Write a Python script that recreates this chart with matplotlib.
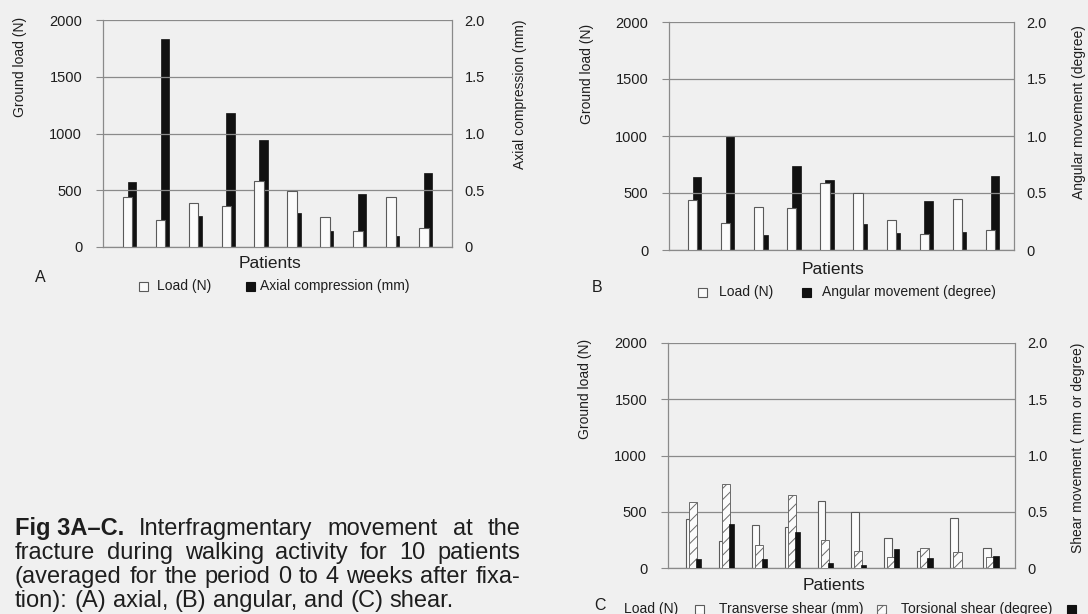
import matplotlib
matplotlib.use("Agg")
import matplotlib.pyplot as plt
from matplotlib.patches import Rectangle
import numpy as np

plt.rcParams['font.family'] = ['Liberation Sans', 'DejaVu Sans']
plt.rcParams['hatch.linewidth'] = 0.7

# ---------------- data ----------------
patients = list(range(1, 11))
load_A = [441, 241, 388, 365, 585, 492, 268, 141, 438, 171]
axial_compression = [0.57, 1.83, 0.27, 1.18, 0.94, 0.30, 0.14, 0.465, 0.094, 0.655]

load_B = [436, 233, 380, 365, 588, 497, 266, 142, 447, 175]
angular_movement = [0.637, 1.0, 0.13, 0.737, 0.614, 0.225, 0.146, 0.433, 0.158, 0.652]

load_C = [440, 240, 385, 362, 592, 497, 270, 148, 447, 175]
transverse_shear = [0.59, 0.747, 0.205, 0.648, 0.25, 0.15, 0.10, 0.18, 0.145, 0.10]
torsional_shear = [0.078, 0.39, 0.078, 0.32, 0.045, 0.024, 0.17, 0.093, 0.0, 0.108]

left_ticks = [0, 500, 1000, 1500, 2000]
right_ticks = [0, 0.5, 1.0, 1.5, 2.0]
right_ticklabels = ['0', '0.5', '1.0', '1.5', '2.0']

W, H = 1088, 614
BG = '#f0f0f0'
TXT = '#1e1e1e'
GRID = '#8a8a8a'
fig = plt.figure(figsize=(W / 100, H / 100), dpi=100, facecolor=BG)


def px_axes(l, t, r, b):
    return [l / W, 1 - b / H, (r - l) / W, (b - t) / H]


def setup(ax, xlim):
    ax.set_facecolor('none')
    ax.set_xlim(*xlim)
    ax.set_ylim(0, 2000)
    ax.set_yticks(left_ticks)
    ax.set_yticklabels([str(v) for v in left_ticks], fontsize=10.5, color=TXT)
    ax.tick_params(axis='y', length=5, width=0.8, color=GRID, pad=10)
    ax.set_xticks([])
    ax.yaxis.grid(True, color=GRID, lw=0.9)
    ax.set_axisbelow(True)
    ax.spines['top'].set_visible(False)
    for s in ['left', 'right', 'bottom']:
        ax.spines[s].set_color(GRID)
        ax.spines[s].set_linewidth(0.9)
    ax2 = ax.twinx()
    ax2.set_ylim(0, 2.0)
    ax2.set_yticks(right_ticks)
    ax2.set_yticklabels(right_ticklabels, fontsize=10.5, color=TXT)
    ax2.tick_params(axis='y', length=0, pad=9)
    for s in ['top', 'left', 'right', 'bottom']:
        ax2.spines[s].set_visible(False)
    return ax2


x = np.arange(len(patients))
WHITE = '#fbfbfb'
EDGE = '#5a5a5a'

# ---------------- panel A ----------------
axA = fig.add_axes(px_axes(103, 20, 452, 247))
axA2 = setup(axA, (-0.8, 9.8))
axA2.bar(x + 0.075, axial_compression, width=0.25, color='#111111', edgecolor='#111111', lw=0.5, zorder=2)
axA.set_zorder(axA2.get_zorder() + 1)
axA.patch.set_visible(False)
axA.bar(x - 0.055, load_A, width=0.29, color=WHITE, edgecolor=EDGE, lw=0.8, zorder=3)

# ---------------- panel B ----------------
axB = fig.add_axes(px_axes(669, 22, 1014, 250))
axB2 = setup(axB, (-0.77, 9.65))
axB2.bar(x + 0.075, angular_movement, width=0.26, color='#111111', edgecolor='#111111', lw=0.5, zorder=2)
axB.set_zorder(axB2.get_zorder() + 1)
axB.patch.set_visible(False)
axB.bar(x - 0.06, load_B, width=0.28, color=WHITE, edgecolor=EDGE, lw=0.8, zorder=3)

# ---------------- panel C ----------------
axC = fig.add_axes(px_axes(668, 343, 1015, 568))
axC2 = setup(axC, (-0.77, 9.73))
axC.bar(x - 0.12, load_C, width=0.23, color=WHITE, edgecolor=EDGE, lw=0.8, zorder=2)
axC2.bar(x - 0.01, transverse_shear, width=0.25, color=WHITE, edgecolor='#6a6a6a', hatch='///', lw=0.7, zorder=3)
axC2.bar(x + 0.155, torsional_shear, width=0.16, color='#111111', edgecolor='#111111', lw=0.5, zorder=4)

# ---------------- axis labels ----------------
lab = dict(fontsize=10, color=TXT, rotation=90, ha='center', va='center')
fig.text(20 / W, 1 - 67 / H, 'Ground load (N)', **lab)
fig.text(520 / W, 1 - 94 / H, 'Axial compression (mm)', **lab)
fig.text(587 / W, 1 - 74 / H, 'Ground load (N)', **lab)
fig.text(1079 / W, 1 - 112 / H, 'Angular movement (degree)', **lab)
fig.text(585 / W, 1 - 389 / H, 'Ground load (N)', **lab)
fig.text(1078 / W, 1 - 448 / H, 'Shear movement ( mm or degree)', **lab)

pat = dict(fontsize=12.5, color=TXT, ha='center', va='center')
fig.text(270 / W, 1 - 263 / H, 'Patients', **pat)
fig.text(833 / W, 1 - 269 / H, 'Patients', **pat)
fig.text(834 / W, 1 - 585 / H, 'Patients', **pat)

letter = dict(fontsize=11.5, color=TXT, ha='center', va='center')
fig.text(40 / W, 1 - 278 / H, 'A', **letter)
fig.text(597 / W, 1 - 287 / H, 'B', **letter)
fig.text(600 / W, 1 - 606 / H, 'C', **letter)


# ---------------- legends ----------------
def square(xc, yc, kind, s=9):
    xy = ((xc - s / 2) / W, 1 - (yc + s / 2) / H)
    if kind == 'white':
        p = Rectangle(xy, s / W, s / H, transform=fig.transFigure,
                      facecolor=WHITE, edgecolor=EDGE, lw=0.8)
    elif kind == 'black':
        p = Rectangle(xy, s / W, s / H, transform=fig.transFigure,
                      facecolor='#111111', edgecolor='#111111', lw=0.8)
    else:
        p = Rectangle(xy, s / W, s / H, transform=fig.transFigure,
                      facecolor=WHITE, edgecolor='#6a6a6a', hatch='///', lw=0.8)
    fig.patches.append(p)


leg = dict(fontsize=10, color=TXT, ha='left', va='center')
square(143, 286, 'white')
fig.text(157 / W, 1 - 286 / H, 'Load (N)', **leg)
square(250, 286, 'black')
fig.text(260 / W, 1 - 286 / H, 'Axial compression (mm)', **leg)

square(702, 292, 'white')
fig.text(719 / W, 1 - 292 / H, 'Load (N)', **leg)
square(806, 292, 'black')
fig.text(822 / W, 1 - 292 / H, 'Angular movement (degree)', **leg)

fig.text(624 / W, 1 - 609 / H, 'Load (N)', **leg)
square(699, 609, 'white')
fig.text(719 / W, 1 - 609 / H, 'Transverse shear (mm)', **leg)
square(881, 609, 'hatch')
fig.text(901 / W, 1 - 609 / H, 'Torsional shear (degree)', **leg)
square(1071, 609, 'black')

# ---------------- caption (justified) ----------------
fig.canvas.draw()
renderer = fig.canvas.get_renderer()
CAP = 17
x0, x1 = 15, 520


def cap_line(items, ybase, justify=True):
    texts = []
    for word, bold in items:
        t = fig.text(0, 1 - ybase / H, word, fontsize=CAP, color=TXT, ha='left', va='baseline',
                     fontweight='bold' if bold else 'normal')
        texts.append(t)
    widths = [t.get_window_extent(renderer).width for t in texts]
    if justify and len(texts) > 1:
        gap = (x1 - x0 - sum(widths)) / (len(texts) - 1)
    else:
        sp = fig.text(0, 0, 'a a', fontsize=CAP)
        sp2 = fig.text(0, 0, 'aa', fontsize=CAP)
        gap = sp.get_window_extent(renderer).width - sp2.get_window_extent(renderer).width
        sp.remove()
        sp2.remove()
    xx = x0
    for t, w in zip(texts, widths):
        t.set_x(xx / W)
        xx += w + gap


cap_line([('Fig 3A\u2013C.', True)] + [(w, False) for w in 'Interfragmentary movement at the'.split()], 535)
cap_line([(w, False) for w in 'fracture during walking activity for 10 patients'.split()], 559)
cap_line([(w, False) for w in '(averaged for the period 0 to 4 weeks after fixa-'.split()], 583)
cap_line([(w, False) for w in 'tion): (A) axial, (B) angular, and (C) shear.'.split()], 607, justify=False)

fig.savefig('out.png', dpi=100, facecolor=BG)
